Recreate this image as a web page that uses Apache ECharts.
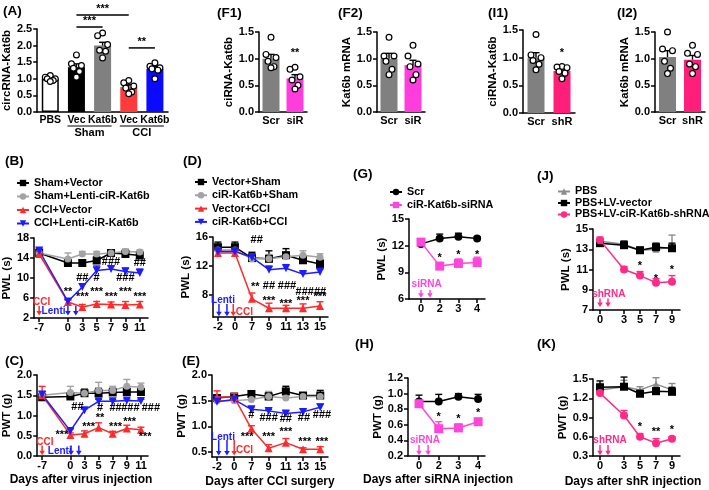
<!DOCTYPE html>
<html><head><meta charset="utf-8">
<script src="https://cdn.jsdelivr.net/npm/echarts@6/dist/echarts.min.js"></script>
<style>html,body{margin:0;padding:0;background:#fff}#c{width:709px;height:490px}</style>
</head><body><div id="c"></div>
<script>
// ================= DATA =================
// (A) circRNA-Kat6b
const aCats = ['PBS', 'Vec', 'Kat6b', 'Vec', 'Kat6b'];
const aMeans = [1.0, 1.35, 2.0, 0.75, 1.3];
const aErr = [0.03, 0.1, 0.1, 0.07, 0.07];
const aDots = [
  [1.1, 1.05, 1.0, 1.0, 0.95, 0.92],
  [1.72, 1.45, 1.4, 1.32, 1.22, 1.05],
  [2.38, 2.3, 2.03, 1.86, 1.83, 1.63],
  [0.95, 0.88, 0.78, 0.72, 0.6, 0.55],
  [1.48, 1.38, 1.33, 1.3, 1.26, 1.0]
];
const aGroups = [['Sham', 1, 2], ['CCI', 3, 4]];
const aSig = [[1, 3, 2.92, '***'], [1, 2, 2.56, '***'], [3, 4, 1.93, '**']];

// (F1)(F2)
const fCats = ['Scr', 'siR'];
const f1Means = [1.0, 0.63];
const f1Err = [0.08, 0.07];
const f1Dots = [[1.4, 1.08, 1.02, 0.95, 0.85, 0.83], [0.84, 0.8, 0.66, 0.6, 0.5, 0.43]];
const f2Means = [1.0, 0.88];
const f2Err = [0.1, 0.09];
const f2Dots = [[1.4, 1.05, 1.05, 0.95, 0.8, 0.7], [1.25, 1.05, 0.9, 0.85, 0.7, 0.6]];
// (I1)(I2)
const iCats = ['Scr', 'shR'];
const i1Means = [1.0, 0.76];
const i1Err = [0.09, 0.04];
const i1Dots = [[1.42, 1.05, 1.0, 0.95, 0.88, 0.78], [0.84, 0.83, 0.82, 0.75, 0.72, 0.62]];
const i2Means = [1.03, 0.98];
const i2Err = [0.12, 0.08];
const i2Dots = [[1.5, 1.18, 1.15, 0.95, 0.82, 0.72], [1.25, 1.1, 1.08, 0.9, 0.85, 0.72]];

// (B)(C) days after virus injection ('' = axis gap)
const bcSlots = ['-7', '', '0', '3', '5', '7', '9', '11'];
const bcDays = ['-7', '0', '3', '5', '7', '9', '11'];
const bcNames = ['Sham+Vector', 'Sham+Lenti-ciR-Kat6b', 'CCI+Vector', 'CCI+Lenti-ciR-Kat6b'];
const bPWL = [
  [15.0, 13.0, 13.0, 13.5, 15.0, 14.8, 14.5],
  [15.0, 13.8, 14.8, 14.8, 15.0, 15.3, 15.2],
  [14.8, 5.2, 4.2, 4.8, 4.7, 4.6, 4.7],
  [15.5, 5.3, 8.2, 11.5, 11.8, 11.3, 11.0]
];
const bErr = [
  [0.4, 0.6, 0.6, 0.7, 0.4, 0.8, 0.7],
  [0.4, 1.2, 0.5, 0.5, 0.4, 0.5, 0.4],
  [0.5, 0.4, 0.5, 0.5, 0.5, 0.7, 0.6],
  [0.4, 0.4, 0.6, 0.9, 0.6, 0.7, 0.8]
];
const cPWT = [
  [1.45, 1.47, 1.55, 1.55, 1.57, 1.58, 1.58],
  [1.5, 1.57, 1.55, 1.62, 1.62, 1.72, 1.7],
  [1.5, 0.52, 0.55, 0.7, 0.55, 0.68, 0.65],
  [1.52, 0.62, 1.13, 1.35, 1.35, 1.37, 1.36]
];
const cErr = [
  [0.05, 0.05, 0.1, 0.12, 0.1, 0.1, 0.08],
  [0.08, 0.15, 0.08, 0.2, 0.1, 0.17, 0.1],
  [0.22, 0.05, 0.07, 0.12, 0.06, 0.08, 0.06],
  [0.07, 0.05, 0.04, 0.05, 0.04, 0.04, 0.04]
];
// (D)(E) days after CCI surgery
const deDays = ['-2', '0', '7', '9', '11', '13', '15'];
const deNames = ['Vector+Sham', 'ciR-Kat6b+Sham', 'Vector+CCI', 'ciR-Kat6b+CCI'];
const dPWL = [
  [14.6, 14.6, 13.1, 13.0, 13.5, 12.8, 12.3],
  [14.2, 14.2, 13.0, 13.0, 13.3, 13.5, 13.2],
  [13.8, 13.8, 7.5, 6.2, 6.2, 6.2, 6.5],
  [14.0, 14.0, 13.2, 11.5, 11.7, 10.9, 11.2]
];
const dErr = [
  [0.7, 0.7, 0.8, 1.1, 0.9, 0.5, 0.6],
  [0.6, 0.6, 0.6, 0.6, 0.6, 0.6, 0.5],
  [0.4, 0.4, 0.8, 0.7, 0.4, 0.6, 0.6],
  [0.5, 0.5, 0.5, 0.5, 0.5, 0.3, 0.4]
];
const ePWT = [
  [1.55, 1.58, 1.63, 1.58, 1.68, 1.6, 1.6],
  [1.5, 1.5, 1.52, 1.58, 1.55, 1.58, 1.58],
  [1.57, 1.57, 0.95, 0.57, 0.68, 0.55, 0.55],
  [1.48, 1.52, 1.33, 1.3, 1.25, 1.28, 1.37]
];
const eErr = [
  [0.05, 0.05, 0.06, 0.07, 0.1, 0.04, 0.1],
  [0.04, 0.04, 0.06, 0.1, 0.05, 0.05, 0.05],
  [0.12, 0.07, 0.06, 0.07, 0.08, 0.03, 0.05],
  [0.1, 0.05, 0.05, 0.03, 0.05, 0.06, 0.06]
];
// (G)(H) days after siRNA injection
const ghDays = ['0', '2', '3', '4'];
const ghNames = ['Scr', 'ciR-Kat6b-siRNA'];
const gPWL = [[12.2, 12.8, 13.0, 12.8], [12.4, 9.7, 10.0, 10.1]];
const gErr = [[0.4, 0.5, 0.4, 0.2], [0.3, 0.4, 0.5, 0.6]];
const hPWT = [[0.9, 0.9, 0.96, 0.93], [0.87, 0.55, 0.56, 0.64]];
const hErr = [[0.08, 0.09, 0.04, 0.06], [0.03, 0.09, 0.05, 0.03]];
// (J)(K) days after shR injection
const jkDays = [0, 3, 5, 7, 9];
const jkNames = ['PBS', 'PBS+LV-vector', 'PBS+LV-ciR-Kat6b-shRNA'];
const jPWL = [[13.8, 13.5, 12.9, 13.0, 13.2], [13.6, 13.4, 12.9, 13.2, 13.1], [13.9, 11.0, 10.4, 9.7, 9.8]];
const jErr = [[0.3, 0.3, 0.2, 0.3, 1.2], [0.3, 0.4, 0.3, 0.4, 0.5], [0.3, 0.3, 0.4, 0.4, 0.6]];
const kPWT = [[1.33, 1.38, 1.33, 1.42, 1.33], [1.37, 1.38, 1.27, 1.31, 1.3], [1.28, 0.93, 0.6, 0.5, 0.57]];
const kErr = [[0.1, 0.1, 0.05, 0.1, 0.1], [0.1, 0.15, 0.05, 0.05, 0.07], [0.03, 0.08, 0.05, 0.07, 0.03]];

// Tick values
const aTicks = [0, 0.5, 1, 1.5, 2, 2.5];
const fTicks = [0, 0.5, 1, 1.5];
const bTicks = [2, 6, 10, 14, 18];
const cTicks = [0, 0.5, 1, 1.5, 2];
const dTicks = [8, 12, 16];
const eTicks = [0.5, 1, 1.5, 2];
const gTicks = [6, 9, 12, 15];
const hTicks = [0.2, 0.4, 0.6, 0.8, 1.0, 1.2];
const jTicks = [7, 9, 11, 13, 15];
const kTicks = [0.3, 0.6, 0.9, 1.2, 1.5];

// Annotations: [x, y, text]
const bNotes = [[2, 7.27, '**'], [3, 6.27, '***'], [4, 7.27, '***'], [5, 6.27, '***'], [6, 7.27, '***'], [7, 6.27, '***'],
  [3, 10.07, '##'], [4, 10.07, '#'], [5, 13.27, '###'], [6, 10.07, '###'], [7, 13.07, '##']];
const cNotes = [[1.4, 0.52, '***'], [2.5, 1.2, '##'], [3.3, 0.72, '***'], [4.1, 1.18, '#'], [4.1, 0.93, '**'],
  [5.2, 1.18, '##'], [6.25, 1.18, '###'], [7.7, 1.18, '###'], [5.2, 0.72, '***'], [6.2, 0.85, '***'], [7.3, 0.48, '***']];
const dNotes = [[2.28, 15.6, '##'], [2.2, 9.15, '**'], [3.0, 9.3, '##'], [4.06, 9.3, '###'], [5.1, 8.46, '###'], [6.0, 8.46, '##'],
  [3.0, 7.17, '***'], [4.0, 6.85, '***'], [5.0, 7.22, '***'], [6.0, 7.77, '***']];
const eNotes = [[2.0, 1.22, '#'], [3.0, 1.16, '###'], [4.0, 1.14, '##'], [5.05, 1.16, '##'], [6.1, 1.22, '###'],
  [1.75, 0.8, '***'], [3.0, 0.8, '***'], [4.0, 0.88, '***'], [5.1, 0.7, '***'], [6.1, 0.7, '***']];
const gNotes = [[1, 10.6, '*'], [2, 10.9, '*'], [3, 10.9, '*']];
const hNotes = [[1, 0.7, '*'], [2, 0.68, '*'], [3, 0.75, '*']];
const jNotes = [[5, 11.33, '*'], [7, 10.1, '*'], [9, 10.93, '*']];
const kNotes = [[5, 0.756, '*'], [7, 0.68, '**'], [9, 0.7, '*']];
const f1Notes = [[1, 1.1, '**']];
const i1Notes = [[1, 1.08, '*']];

// ================= STYLE / HELPERS =================
const FONT = '"Liberation Sans", Arial, Helvetica, sans-serif';
const GREY = '#a3a3a3', RED = '#ff2b2b', BLUE = '#1c1cff', MAG = '#ff46dc', HOT = '#ff2a86';
const grid = [], xAxis = [], yAxis = [], series = [], legend = [], graphic = [];
const lineStyleAx = {color: '#000', width: 1.5};

function txt(text, x, y, size, align) {
  graphic.push({type: 'text', x: x, y: y, silent: true,
    style: {text: text, font: 'bold ' + size + 'px ' + FONT, fill: '#000',
      align: align || 'left', verticalAlign: align ? 'middle' : 'top'}});
}
function fmt1(v) { return (Math.round(v * 10) / 10).toFixed(1); }
function yAx(min, max, ticks, name, gap, f) {
  return {type: 'value', min: min, max: max,
    axisLine: {show: true, onZero: false, lineStyle: lineStyleAx},
    axisTick: {show: true, length: 4, lineStyle: lineStyleAx, customValues: ticks},
    axisLabel: {customValues: ticks, color: '#000', fontSize: 11, fontWeight: 'bold', fontFamily: FONT, margin: 5,
      formatter: f || (v => String(v))},
    splitLine: {show: false},
    name: name, nameLocation: 'middle', nameRotate: 90, nameGap: gap,
    nameTextStyle: {color: '#000', fontSize: 11.5, fontWeight: 'bold', fontFamily: FONT}};
}
function xVal(min, max, ticks, f) {
  return {type: 'value', min: min, max: max,
    axisLine: {show: true, onZero: false, lineStyle: lineStyleAx},
    axisTick: {show: true, length: 4, lineStyle: lineStyleAx, customValues: ticks},
    axisLabel: {customValues: ticks, color: '#000', fontSize: 11, fontWeight: 'bold', fontFamily: FONT, margin: 4, formatter: f},
    splitLine: {show: false}};
}
function xCat(cats, fs) {
  return {type: 'category', data: cats,
    axisLine: {show: true, onZero: false, lineStyle: lineStyleAx},
    axisTick: {show: false},
    axisLabel: {interval: 0, color: '#000', fontSize: fs || 11, fontWeight: 'bold', fontFamily: FONT, margin: 3},
    splitLine: {show: false}};
}
function addPanel(box, xa, ya) {
  const gi = grid.length;
  grid.push({left: box[0], top: box[1], width: box[2], height: box[3]});
  xa.gridIndex = gi; ya.gridIndex = gi;
  xAxis.push(xa); yAxis.push(ya);
  return gi;
}
function errSeries(gi, xs, ys, es, color, z) {
  series.push({type: 'custom', xAxisIndex: gi, yAxisIndex: gi, silent: true, z: z || 3,
    data: ys.map((y, k) => [xs[k], y, es[k]]),
    renderItem: (p, api) => {
      const b = api.coord([api.value(0), api.value(1)]);
      const t = api.coord([api.value(0), api.value(1) + api.value(2)]);
      return {type: 'group', children: [
        {type: 'line', shape: {x1: b[0], y1: b[1], x2: t[0], y2: t[1]}, style: {stroke: color, lineWidth: 1.4}},
        {type: 'line', shape: {x1: t[0] - 3.5, y1: t[1], x2: t[0] + 3.5, y2: t[1]}, style: {stroke: color, lineWidth: 1.4}}]};
    }});
}
function lineSeries(gi, name, xs, ys, es, color, symbol, size, rot, z) {
  errSeries(gi, xs, ys, es, color, z);
  series.push({type: 'line', name: name, xAxisIndex: gi, yAxisIndex: gi, z: z,
    data: ys.map((y, k) => [xs[k], y]),
    symbol: symbol, symbolSize: size, symbolRotate: rot || 0, showAllSymbol: true,
    itemStyle: {color: color, borderWidth: 0}, lineStyle: {color: color, width: 1.5},
    emphasis: {disabled: true}});
}
function noteSeries(gi, items, size, color) {
  series.push({type: 'custom', xAxisIndex: gi, yAxisIndex: gi, silent: true, z: 6,
    data: items.map(it => [it[0], it[1]]),
    renderItem: (p, api) => {
      const it = items[p.dataIndex];
      const c = api.coord([it[0], it[1]]);
      return {type: 'text', x: c[0], y: c[1], style: {text: it[2], fill: color || '#000',
        font: 'bold ' + (size || 11) + 'px ' + FONT, align: 'center', verticalAlign: 'middle'}};
    }});
}
function arrowSeries(gi, arrows, color) {
  series.push({type: 'custom', xAxisIndex: gi, yAxisIndex: gi, silent: true, z: 6,
    data: arrows,
    renderItem: (p, api) => {
      const a = api.coord([api.value(0), api.value(1)]);
      const b = api.coord([api.value(0), api.value(2)]);
      return {type: 'group', children: [
        {type: 'line', shape: {x1: a[0], y1: a[1], x2: b[0], y2: b[1] - 3}, style: {stroke: color, lineWidth: 1.5}},
        {type: 'polygon', shape: {points: [[b[0] - 2.8, b[1] - 4.5], [b[0] + 2.8, b[1] - 4.5], [b[0], b[1]]]}, style: {fill: color}}]};
    }});
}
const JIT = [0, -5, 5, -3, 3, 0];
function barPanel(gi, means, errs, dots, colors, borders) {
  series.push({type: 'bar', xAxisIndex: gi, yAxisIndex: gi, barWidth: 17, z: 2, silent: true,
    data: means.map((m, k) => ({value: m, itemStyle: {color: colors[k], borderColor: '#000', borderWidth: borders ? borders[k] : 0}}))});
  errSeries(gi, means.map((m, k) => k), means, errs, '#000', 3);
  const data = [];
  dots.forEach((arr, ci) => arr.forEach((v, j) => data.push([ci, v, j])));
  series.push({type: 'custom', xAxisIndex: gi, yAxisIndex: gi, silent: true, z: 5, data: data,
    renderItem: (p, api) => {
      const c = api.coord([api.value(0), api.value(1)]);
      const off = JIT[api.value(2) % JIT.length];
      return {type: 'circle', shape: {cx: c[0] + off, cy: c[1], r: 2.9}, style: {fill: '#fff', stroke: '#000', lineWidth: 1.2}};
    }});
}
function addLegend(names, left, top, gap, lh) {
  legend.push({data: names, left: left, top: top, orient: 'vertical', itemGap: gap, itemWidth: 12, itemHeight: 8,
    selectedMode: false, padding: 0,
    textStyle: {color: '#000', fontSize: 10.8, fontWeight: 'bold', fontFamily: FONT, lineHeight: lh, padding: [0, 0, 0, 0]}});
}

// ================= PANELS =================
// (A)
let g = addPanel([37, 29, 131, 83], xCat(aCats, 10.5), yAx(0, 2.5, aTicks, 'circRNA-Kat6b', 22, fmt1));
barPanel(g, aMeans, aErr, aDots, ['#ffffff', '#000000', '#808080', '#ff3b3b', '#0a0aff'], [1.5, 0, 0, 0, 0]);
series.push({type: 'custom', xAxisIndex: g, yAxisIndex: g, silent: true, z: 6, data: aSig.map(s => [s[0], s[2]]),
  renderItem: (p, api) => {
    const s = aSig[p.dataIndex];
    const a = api.coord([s[0], s[2]]), b = api.coord([s[1], s[2]]);
    return {type: 'group', children: [
      {type: 'line', shape: {x1: a[0], y1: a[1], x2: b[0], y2: b[1]}, style: {stroke: '#000', lineWidth: 1.5}},
      {type: 'text', x: (a[0] + b[0]) / 2, y: a[1] - 6, style: {text: s[3], font: 'bold 11px ' + FONT, fill: '#000', align: 'center', verticalAlign: 'middle'}}]};
  }});
series.push({type: 'custom', xAxisIndex: g, yAxisIndex: g, silent: true, z: 6, data: aGroups.map(s => [s[1], 0]),
  renderItem: (p, api) => {
    const s = aGroups[p.dataIndex];
    const a = api.coord([s[1], 0]), b = api.coord([s[2], 0]);
    return {type: 'group', children: [
      {type: 'line', shape: {x1: a[0] - 9, y1: a[1] + 14, x2: b[0] + 9, y2: b[1] + 14}, style: {stroke: '#000', lineWidth: 1.2}},
      {type: 'text', x: (a[0] + b[0]) / 2, y: a[1] + 21, style: {text: s[0], font: 'bold 11px ' + FONT, fill: '#000', align: 'center', verticalAlign: 'middle'}}]};
  }});
txt('(A)', 3, 4, 13.5);

// (F1)
g = addPanel([259, 32, 48, 80], xCat(fCats), yAx(0, 1.5, fTicks, 'ciRNA-Kat6b', 14, fmt1));
barPanel(g, f1Means, f1Err, f1Dots, ['#808080', '#ff3ddc']);
noteSeries(g, f1Notes, 11);
txt('(F1)', 217, 6, 13.5);
// (F2)
g = addPanel([377, 32, 48, 80], xCat(fCats), yAx(0, 1.5, fTicks, 'Kat6b mRNA', 12, fmt1));
barPanel(g, f2Means, f2Err, f2Dots, ['#808080', '#ff3ddc']);
txt('(F2)', 338, 6, 13.5);
// (I1)
g = addPanel([523, 30, 52, 83], xCat(iCats), yAx(0, 1.5, fTicks, 'ciRNA-Kat6b', 16, fmt1));
barPanel(g, i1Means, i1Err, i1Dots, ['#808080', '#ff1f7a']);
noteSeries(g, i1Notes, 11);
txt('(I1)', 488, 6, 13.5);
// (I2)
g = addPanel([655, 32, 50, 80], xCat(iCats), yAx(0, 1.5, fTicks, 'Kat6b mRNA', 20, fmt1));
barPanel(g, i2Means, i2Err, i2Dots, ['#808080', '#ff1f7a']);
txt('(I2)', 617, 6, 13.5);

// line panel styles
const bcStyle = [['#000', 'rect', 8, 0], [GREY, 'circle', 7, 0], [RED, 'triangle', 8, 0], [BLUE, 'triangle', 8, 180]];
const bcX = bcDays.map(d => bcSlots.indexOf(d));
const bcFmt = v => bcSlots[Math.round(v)] || '';

// (B)
g = addPanel([34, 238, 114, 80], xVal(-0.35, 7.57, bcX, bcFmt), yAx(2, 18, bTicks, 'PWL (s)', 18));
bcNames.forEach((n, i) => lineSeries(g, n, bcX, bPWL[i], bErr[i], bcStyle[i][0], bcStyle[i][1], bcStyle[i][2], bcStyle[i][3], 3 + (i > 1 ? 1 : 0)));
noteSeries(g, bNotes, 11);
noteSeries(g, [[0.17, 5.13, 'CCI']], 10, RED);
noteSeries(g, [[1.0, 3.27, 'Lenti']], 10, BLUE);
arrowSeries(g, [[0, 4.4, 2.5]], RED);
arrowSeries(g, [[2, 4.4, 2.5], [2.55, 4.4, 2.5]], BLUE);
addLegend(bcNames, 16, 177, 1.5, 12);
txt('(B)', 5, 154, 13.5);

// (C)
g = addPanel([35, 375, 113, 81], xVal(-0.35, 7.5, bcX, bcFmt), yAx(0, 2, cTicks, 'PWT (g)', 20, fmt1));
bcNames.forEach((n, i) => lineSeries(g, n, bcX, cPWT[i], cErr[i], bcStyle[i][0], bcStyle[i][1], bcStyle[i][2], bcStyle[i][3], 3 + (i > 1 ? 1 : 0)));
noteSeries(g, cNotes, 11);
noteSeries(g, [[0.2, 0.35, 'CCI']], 10, RED);
noteSeries(g, [[1.25, 0.11, 'Lenti']], 10, BLUE);
arrowSeries(g, [[0, 0.26, 0.02]], RED);
arrowSeries(g, [[2.05, 0.26, 0.02], [2.6, 0.26, 0.02]], BLUE);
txt('(C)', 5, 354, 13.5);
txt('Days after virus injection', 81, 480, 12, 'center');

// (D)
const deX = deDays.map((d, k) => k);
const deFmt = v => deDays[Math.round(v)] || '';
g = addPanel([213, 237, 115, 80], xVal(-0.29, 6.47, deX, deFmt), yAx(5, 16, dTicks, 'PWL (s)', 16));
deNames.forEach((n, i) => lineSeries(g, n, deX, dPWL[i], dErr[i], bcStyle[i][0], bcStyle[i][1], bcStyle[i][2], bcStyle[i][3], 3 + (i > 1 ? 1 : 0)));
noteSeries(g, dNotes, 11);
noteSeries(g, [[0.3, 7.3, 'Lenti']], 10, BLUE);
noteSeries(g, [[1.55, 5.66, 'CCI']], 10, RED);
arrowSeries(g, [[0.06, 6.8, 5.1], [0.53, 6.8, 5.1]], BLUE);
arrowSeries(g, [[0.9, 6.8, 5.1]], RED);
addLegend(deNames, 194, 176, 1.3, 12);
txt('(D)', 183, 154, 13.5);

// (E)
g = addPanel([212, 375, 116, 82], xVal(-0.29, 6.45, deX, deFmt), yAx(0.4, 2.0, eTicks, 'PWT (g)', 17, fmt1));
deNames.forEach((n, i) => lineSeries(g, n, deX, ePWT[i], eErr[i], bcStyle[i][0], bcStyle[i][1], bcStyle[i][2], bcStyle[i][3], 3 + (i > 1 ? 1 : 0)));
noteSeries(g, eNotes, 11);
noteSeries(g, [[0.35, 0.79, 'Lenti']], 10, BLUE);
noteSeries(g, [[1.6, 0.54, 'CCI']], 10, RED);
arrowSeries(g, [[0.1, 0.73, 0.43], [0.58, 0.73, 0.43]], BLUE);
arrowSeries(g, [[1.0, 0.73, 0.43]], RED);
txt('(E)', 182, 354, 13.5);
txt('Days after CCI surgery', 270, 482, 12, 'center');

// (G)
const ghX = ghDays.map((d, k) => k);
const ghFmt = v => ghDays[Math.round(v)] || '';
const ghStyle = [['#000', 'circle', 8, 0], [MAG, 'rect', 9, 0]];
g = addPanel([409, 219, 76, 80], xVal(-0.64, 3.42, ghX, ghFmt), yAx(6, 15, gTicks, 'PWL (s)', 21));
ghNames.forEach((n, i) => lineSeries(g, n, ghX, gPWL[i], gErr[i], ghStyle[i][0], ghStyle[i][1], ghStyle[i][2], 0, 3 + i));
noteSeries(g, gNotes, 11);
noteSeries(g, [[0.3, 7.7, 'siRNA']], 10, MAG);
arrowSeries(g, [[0, 7.0, 6.15], [0.48, 7.0, 6.15]], MAG);
addLegend(ghNames, 389, 186, 1, 12);
txt('(G)', 353, 167, 13.5);

// (H)
g = addPanel([408, 378, 77, 78], xVal(-0.56, 3.35, ghX, ghFmt), yAx(0.2, 1.2, hTicks, 'PWT (g)', 23, fmt1));
ghNames.forEach((n, i) => lineSeries(g, n, ghX, hPWT[i], hErr[i], ghStyle[i][0], ghStyle[i][1], ghStyle[i][2], 0, 3 + i));
noteSeries(g, hNotes, 11);
noteSeries(g, [[0.3, 0.4, 'siRNA']], 10, MAG);
arrowSeries(g, [[0, 0.34, 0.21], [0.46, 0.34, 0.21]], MAG);
txt('(H)', 355, 337, 13.5);
txt('Days after siRNA injection', 438, 480, 12, 'center');

// (J)
const jkStyle = [['#8c8c8c', 'triangle', 7, 0], ['#000', 'rect', 8, 0], [HOT, 'circle', 8, 0]];
g = addPanel([593, 229, 87, 81], xVal(-0.875, 10, jkDays, v => String(v)), yAx(7, 15, jTicks, 'PWL (s)', 20));
jkNames.forEach((n, i) => lineSeries(g, n, jkDays, jPWL[i], jErr[i], jkStyle[i][0], jkStyle[i][1], jkStyle[i][2], 0, 3 + i));
noteSeries(g, jNotes, 11);
noteSeries(g, [[1.1, 8.53, 'shRNA']], 10, HOT);
arrowSeries(g, [[0, 8.13, 7.3], [1, 8.13, 7.3]], HOT);
addLegend(jkNames, 557, 186, 0.5, 11);
txt('(J)', 537, 169, 13.5);

// (K)
g = addPanel([593, 379, 87, 77], xVal(-0.875, 10, jkDays, v => String(v)), yAx(0.3, 1.5, kTicks, 'PWT (g)', 21, fmt1));
jkNames.forEach((n, i) => lineSeries(g, n, jkDays, kPWT[i], kErr[i], jkStyle[i][0], jkStyle[i][1], jkStyle[i][2], 0, 3 + i));
noteSeries(g, kNotes, 11);
noteSeries(g, [[1.25, 0.55, 'shRNA']], 10, HOT);
arrowSeries(g, [[0, 0.47, 0.31], [1, 0.47, 0.31]], HOT);
txt('(K)', 537, 337, 13.5);
txt('Days after shR injection', 633, 482, 12, 'center');

const chart = echarts.init(document.getElementById('c'), null, {renderer: 'canvas'});
chart.setOption({animation: false, backgroundColor: '#fff', grid: grid, xAxis: xAxis, yAxis: yAxis,
  series: series, legend: legend, graphic: graphic, tooltip: {show: false}});
</script></body></html>
